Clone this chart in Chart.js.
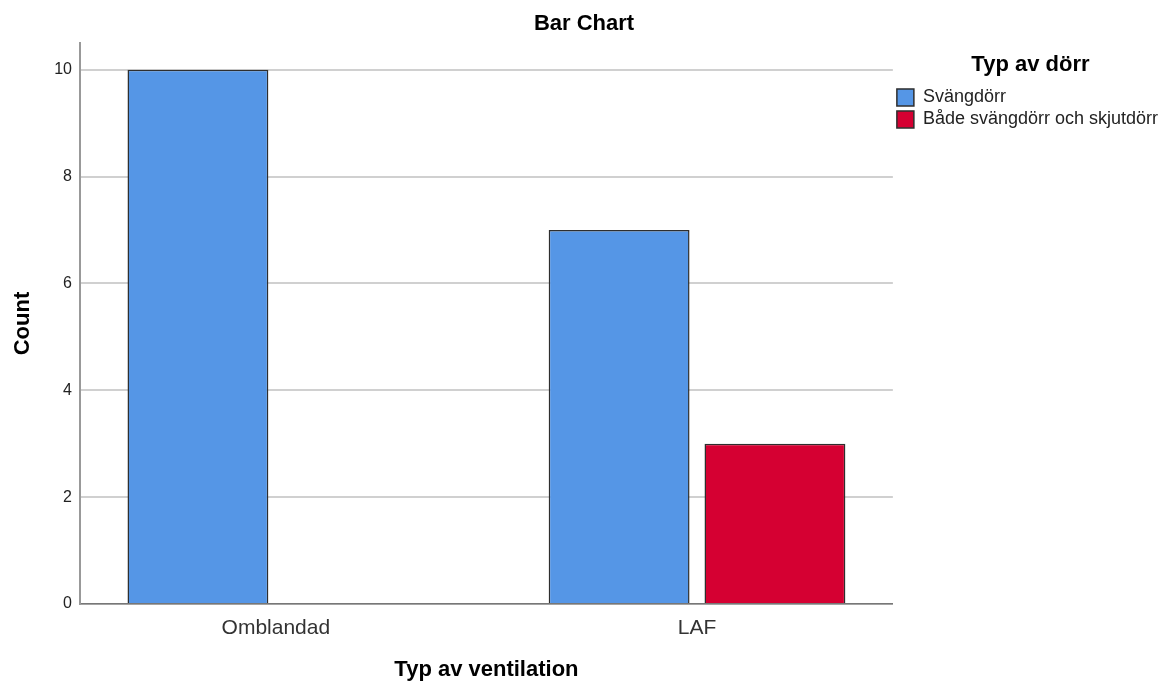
<!DOCTYPE html>
<html lang="sv">
<head>
  <meta charset="UTF-8">
  <title>Bar Chart</title>
  <script src="https://cdn.jsdelivr.net/npm/chart.js"></script>
  <style>
    body { margin: 0; background: #fff; }
    .wrap { width: 1160px; height: 683px; }
  </style>
</head>
<body>
  <div class="wrap">
    <canvas id="barChart"></canvas>
  </div>

  <script>
    // Data
    const categories = ['Omblandad', 'LAF'];
    const svangdorr = [10, 7];
    const badeDorrar = [0, 3];
    const yTicks = [0, 2, 4, 6, 8, 10];

    const FONT = "'Liberation Sans', Arial, sans-serif";

    // categories go on a linear axis so the outer margins can match SPSS
    function toPoints(values) {
      return values.map((v, i) => ({ x: i, y: v === 0 ? null : v }));
    }

    new Chart(document.getElementById('barChart'), {
      type: 'bar',
      data: {
        datasets: [
          {
            label: 'Svängdörr',
            data: toPoints(svangdorr),
            backgroundColor: '#5596e6',
            borderColor: '#2e2e2e',
            borderWidth: 1.5
          },
          {
            label: 'Både svängdörr och skjutdörr',
            data: toPoints(badeDorrar),
            backgroundColor: '#d50032',
            borderColor: '#2e2e2e',
            borderWidth: 1.5
          }
        ]
      },
      options: {
        responsive: true,
        maintainAspectRatio: false,
        animation: false,
        categoryPercentage: 0.74,
        barPercentage: 0.904,
        layout: { padding: { left: 0, right: -8, top: 0, bottom: 0 } },
        plugins: {
          title: {
            display: true,
            text: 'Bar Chart',
            color: '#000',
            font: { family: FONT, size: 22, weight: 'bold' },
            padding: { top: 11, bottom: 5.6 }
          },
          legend: {
            position: 'right',
            align: 'start',
            title: {
              display: true,
              text: 'Typ av dörr',
              color: '#000',
              font: { family: FONT, size: 22, weight: 'bold' },
              padding: { top: 54, bottom: 4 }
            },
            labels: {
              boxWidth: 17,
              boxHeight: 17,
              padding: 4,
              color: '#222',
              font: { family: FONT, size: 18 }
            }
          },
          tooltip: { enabled: false }
        },
        scales: {
          x: {
            type: 'linear',
            offset: false,
            min: -0.465,
            max: 1.465,
            afterBuildTicks: (scale) => {
              scale.ticks = categories.map((c, i) => ({ value: i }));
            },
            grid: { display: false, drawTicks: false },
            border: { display: true, color: '#777', width: 1.5 },
            ticks: {
              padding: 11.5,
              color: '#333',
              font: { family: FONT, size: 21 },
              callback: (value) => categories[value]
            },
            title: {
              display: true,
              text: 'Typ av ventilation',
              color: '#000',
              font: { family: FONT, size: 22, weight: 'bold' },
              padding: { top: 4.4, bottom: 0 }
            }
          },
          y: {
            min: 0,
            max: 10.5,
            afterFit: (scale) => { scale.width = 80; },
            afterBuildTicks: (scale) => {
              scale.ticks = yTicks.map(v => ({ value: v }));
            },
            grid: { color: '#d0d0d0', lineWidth: 2, drawTicks: false },
            border: { display: true, color: '#999', width: 2 },
            ticks: {
              padding: 8,
              color: '#222',
              font: { family: FONT, size: 16 }
            },
            title: {
              display: true,
              text: 'Count',
              color: '#000',
              font: { family: FONT, size: 22, weight: 'bold' },
              padding: { top: 10, bottom: 4 }
            }
          }
        }
      }
    });
  </script>
</body>
</html>
